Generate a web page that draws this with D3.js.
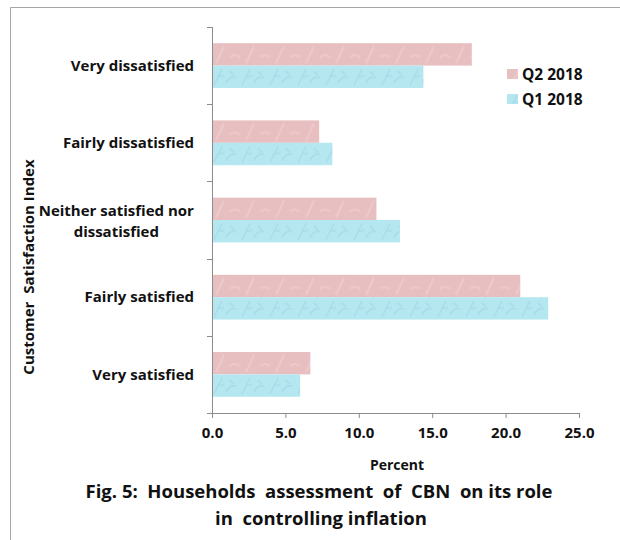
<!DOCTYPE html>
<html>
<head>
<meta charset="utf-8">
<script src="https://cdn.jsdelivr.net/npm/d3@7"></script>
<style>
  body { margin: 0; background: #fff; }
  text { font-family: "Open Sans", Lato, sans-serif; font-weight: bold; fill: #111; }
</style>
</head>
<body>
<div id="chart"></div>
<script>
// categories top to bottom
var categories = ["Very dissatisfied", "Fairly dissatisfied", "Neither satisfied nor dissatisfied", "Fairly satisfied", "Very satisfied"];
var seriesNames = ["Q2 2018", "Q1 2018"];
var q2Values = [17.7, 7.3, 11.2, 21.0, 6.7];
var q1Values = [14.4, 8.2, 12.8, 22.9, 6.0];
var xTicks = [0, 5, 10, 15, 20, 25];

var width = 620, height = 540;
var margin = {top: 27, right: 41, bottom: 127, left: 212};

var svg = d3.select("#chart")
  .append("svg")
    .attr("width", width)
    .attr("height", height);

// frame (left and top edges only)
svg.append("path")
  .attr("d", "M10.5," + height + "V7.5H" + width)
  .attr("fill", "none")
  .attr("stroke", "#a6a6a6")
  .attr("stroke-width", 1);

var g = svg.append("g")
  .attr("transform", "translate(" + margin.left + "," + margin.top + ")");

var w = width - margin.left - margin.right,
    h = height - margin.top - margin.bottom;

var x = d3.scaleLinear().domain([0, 25]).range([0, w]);
var y = d3.scaleBand().domain(categories).range([0, h]).paddingInner(0.42).paddingOuter(0.21);
var ySub = d3.scaleBand().domain(seriesNames).range([0, y.bandwidth()]);

var colors = {"Q2 2018": "#e8bfc1", "Q1 2018": "#b4e7f0"};

// texture patterns
var defs = svg.append("defs");
var pq1 = defs.append("pattern").attr("id", "texQ1").attr("patternUnits", "userSpaceOnUse")
  .attr("width", 28).attr("height", 22);
pq1.append("rect").attr("width", 28).attr("height", 22).attr("fill", colors["Q1 2018"]);
pq1.append("path").attr("d", "M2,20 L10,4 M14,18 q4,-8 10,-6 M6,10 q3,3 6,0 M18,6 l4,4")
  .attr("stroke", "#9fd6e2").attr("stroke-width", 1.6).attr("fill", "none").attr("opacity", 0.6);
var pq2 = defs.append("pattern").attr("id", "texQ2").attr("patternUnits", "userSpaceOnUse")
  .attr("width", 30).attr("height", 22);
pq2.append("rect").attr("width", 30).attr("height", 22).attr("fill", colors["Q2 2018"]);
pq2.append("path").attr("d", "M4,20 L12,3 M18,14 q5,-4 10,0")
  .attr("stroke", "#eecdce").attr("stroke-width", 2).attr("fill", "none").attr("opacity", 0.7);

var rows = categories.map(function(c, i) {
  return {cat: c, vals: [{s: "Q2 2018", v: q2Values[i]}, {s: "Q1 2018", v: q1Values[i]}]};
});

// bars
var groups = g.selectAll(".grp")
  .data(rows)
  .enter().append("g")
    .attr("transform", d => "translate(0," + y(d.cat) + ")");

groups.selectAll("rect")
  .data(d => d.vals)
  .enter().append("rect")
    .attr("x", 0)
    .attr("y", d => ySub(d.s))
    .attr("width", d => x(d.v))
    .attr("height", ySub.bandwidth())
    .attr("fill", d => d.s == "Q1 2018" ? "url(#texQ1)" : "url(#texQ2)");

// y axis line and ticks at band edges
g.append("line")
  .attr("x1", 0.5).attr("x2", 0.5).attr("y1", 0).attr("y2", h)
  .attr("stroke", "#8c8c8c");
var edges = d3.range(categories.length + 1).map(i => i * h / categories.length);
g.selectAll(".ytick")
  .data(edges)
  .enter().append("line")
    .attr("x1", -5).attr("x2", 0.5)
    .attr("y1", d => Math.round(d) + 0.5).attr("y2", d => Math.round(d) + 0.5)
    .attr("stroke", "#8c8c8c");

// category labels
var labels = g.selectAll(".ylab")
  .data(categories)
  .enter().append("text")
    .attr("font-size", "15px")
    .attr("text-anchor", "end")
    .attr("y", d => y(d) + y.bandwidth() / 2)
    .attr("x", -18);
labels.each(function(d) {
  var t = d3.select(this);
  if (d.indexOf("Neither") == 0) {
    t.attr("text-anchor", "middle");
    t.append("tspan").attr("x", 0).attr("dy", "-0.25em").text("Neither satisfied nor");
    t.append("tspan").attr("x", 0).attr("dy", "1.35em").text("dissatisfied");
    var bw = this.getBBox().width;
    t.selectAll("tspan").attr("x", -18 - bw / 2);
  } else {
    t.attr("dy", "0.35em").text(d);
  }
});

// x axis
var xAxis = g.append("g")
  .attr("transform", "translate(0," + h + ")")
  .call(d3.axisBottom(x).tickValues(xTicks).tickFormat(d3.format(".1f")).tickSizeOuter(0).tickSize(5));
xAxis.select(".domain").attr("stroke", "#8c8c8c").attr("d", "M0,0.5H" + w);
xAxis.selectAll(".tick line").attr("stroke", "#8c8c8c");
xAxis.selectAll(".tick text")
  .attr("font-size", "15px")
  .attr("font-family", "'Open Sans', sans-serif")
  .attr("fill", "#111")
  .attr("dy", "1.15em");

// axis titles
svg.append("text")
  .attr("x", 397).attr("y", 470)
  .attr("text-anchor", "middle")
  .attr("font-size", "14px")
  .text("Percent");

svg.append("text")
  .attr("transform", "translate(34,267) rotate(-90)")
  .attr("text-anchor", "middle")
  .attr("font-size", "15px")
  .attr("xml:space", "preserve")
  .text("Customer  Satisfaction Index");

// legend
var legend = svg.append("g").attr("transform", "translate(507,66)");
seriesNames.forEach(function(s, i) {
  var lg = legend.append("g").attr("transform", "translate(0," + (i * 25) + ")");
  lg.append("rect").attr("width", 11).attr("height", 10).attr("y", 3)
    .attr("fill", s == "Q1 2018" ? "url(#texQ1)" : "url(#texQ2)");
  lg.append("text").attr("x", 15).attr("y", 8).attr("dy", "0.36em")
    .attr("font-size", "15.5px").text(s);
});

// caption
var cap = svg.append("text")
  .attr("text-anchor", "middle")
  .attr("font-size", "18.5px")
  .attr("xml:space", "preserve");
cap.append("tspan").attr("x", 319).attr("y", 498).text("Fig. 5:  Households  assessment  of  CBN  on its role");
cap.append("tspan").attr("x", 321).attr("y", 525).text("in  controlling inflation");
</script>
</body>
</html>
